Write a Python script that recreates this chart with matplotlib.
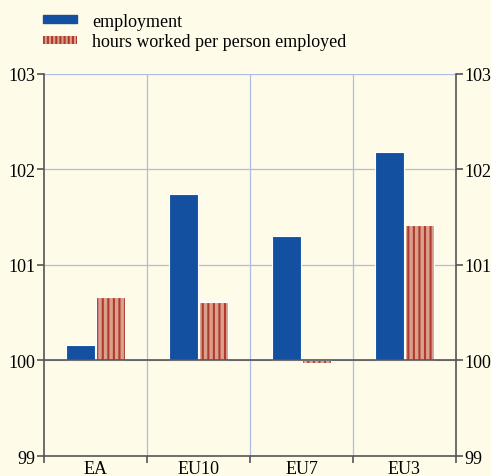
import numpy as np
import matplotlib.pyplot as plt
from matplotlib.patches import Patch

plt.rcParams['font.family'] = ['Liberation Serif', 'DejaVu Serif']
plt.rcParams['hatch.linewidth'] = 1.5

## Data
categories = ["EA", "EU10", "EU7", "EU3"]
employment = [100.16, 101.74, 101.30, 102.18]
hours_worked = [100.66, 100.61, 99.97, 101.42]
base = 100

bg = "#FEFCE8"
blue = "#1450A0"
pink = "#D9A08C"
darkred = "#B03A2E"
grid_col = "#AEBCE6"

fig = plt.figure(figsize=(4.91, 4.77), dpi=100, facecolor=bg)
ax = fig.add_axes([0.0896, 0.0419, 0.8391, 0.8011], facecolor=bg)

x = np.arange(len(categories))
w = 0.28
off = 0.145

emp = np.array(employment) - base
hrs = np.array(hours_worked) - base

ax.bar(x - off, emp, w, bottom=base, color=blue, edgecolor="white", linewidth=0.8, zorder=3)
# hatched bars: fill + vertical stripes, then white outline
ax.bar(x + off, hrs, w, bottom=base, color=pink, edgecolor=darkred, linewidth=0,
       hatch="|||", zorder=3)
ax.bar(x + off, hrs, w, bottom=base, fill=False, edgecolor="white", linewidth=0.8, zorder=4)

ax.axhline(base, color="#555555", lw=1.2, zorder=5)

ax.set_xlim(-0.5, len(categories) - 0.5)
ax.set_ylim(99, 103)
ax.set_yticks([99, 100, 101, 102, 103])
ax.yaxis.grid(True, color=grid_col, lw=0.9, zorder=0)

# category boundaries
bounds = np.arange(len(categories) + 1) - 0.5
for b in bounds[1:-1]:
    ax.axvline(b, color=grid_col, lw=0.9, zorder=0)
ax.set_xticks(x)
ax.set_xticklabels(categories)
ax.set_xticks(bounds, minor=True)
ax.tick_params(axis="x", which="major", length=0, labelsize=13, pad=3)
ax.tick_params(axis="x", which="minor", length=5, width=1.2, color="#555555", direction="out")
ax.tick_params(axis="y", labelsize=13, length=5, width=1.2, color="#555555",
               right=True, labelright=True, pad=1)

for s in ["left", "right", "bottom"]:
    ax.spines[s].set_color("#555555")
    ax.spines[s].set_linewidth(1.2)
ax.spines["top"].set_visible(False)

handles = [Patch(facecolor=blue, edgecolor=blue, label="employment"),
           Patch(facecolor=pink, edgecolor=darkred, linewidth=0, hatch="||||",
                 label="hours worked per person employed")]
fig.legend(handles=handles, loc="upper left", bbox_to_anchor=(0.062, 0.998),
           frameon=False, fontsize=13, handlelength=1.9, handleheight=0.33,
           handletextpad=0.83, labelspacing=0.2, borderaxespad=0.3)

fig.savefig("out.png", dpi=100, facecolor=bg)
